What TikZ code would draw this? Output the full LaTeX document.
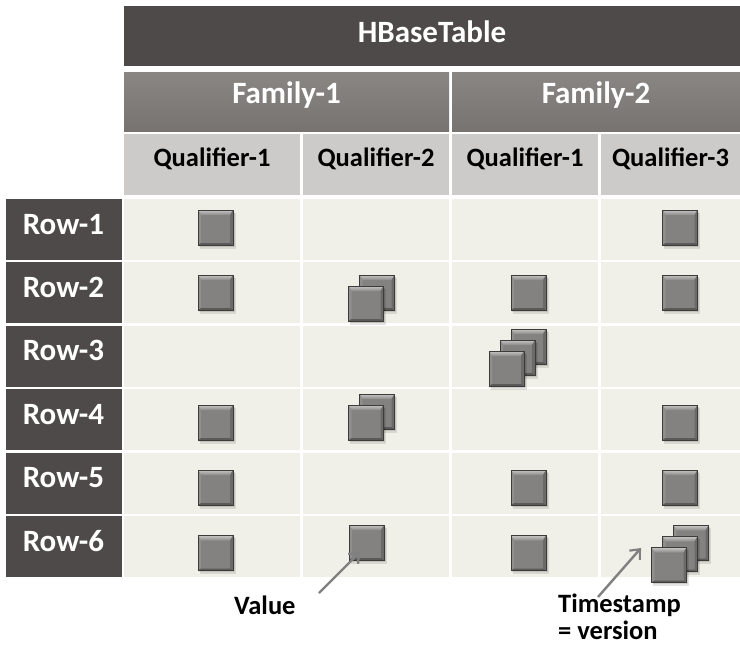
\documentclass[tikz,border=0pt]{standalone}
\usepackage{fontspec}
\setmainfont{Carlito}
\usetikzlibrary{arrows.meta}
\definecolor{hdark}{HTML}{4E4A49}
\definecolor{hmid}{HTML}{777371}
\definecolor{hmidtop}{HTML}{8A8684}
\definecolor{qlight}{HTML}{CDCBCA}
\definecolor{cellbg}{HTML}{F1F0E8}
\definecolor{cubeface}{HTML}{848281}
\definecolor{cubeline}{HTML}{3E3C3B}
\definecolor{bevtop}{HTML}{C8C6C5}
\definecolor{bevtopb}{HTML}{8C8A89}
\definecolor{bevside}{HTML}{918F8E}
\definecolor{bevright}{HTML}{6C6A69}
\definecolor{bevbot}{HTML}{5C5A59}
\definecolor{arrowgray}{HTML}{808080}
\tikzset{
  box/.style={inner sep=0pt, outer sep=0pt, font=\bfseries\fontsize{31}{34}\selectfont},
  toprow/.style={box, fill=hdark, text=white, minimum height=60pt, text height=20pt, text depth=8pt},
  famrow/.style={box, top color=hmidtop, bottom color=hmid, text=white, minimum height=59pt, text height=20pt, text depth=16pt},
  qualrow/.style={box, fill=qlight, text=black, minimum height=61pt, font=\bfseries\fontsize{26.5}{30}\selectfont, text height=17pt, text depth=12.6pt},
  rowlab/.style={box, fill=hdark, text=white, minimum width=116pt, minimum height=61pt, text height=20pt, text depth=11pt},
  bodycell/.style={box, fill=cellbg, minimum height=61pt},
  lab/.style={inner sep=0pt, font=\bfseries\fontsize{26.5}{31}\selectfont, text=black},
  pointer/.style={draw=arrowgray, line width=2.4pt, -{Straight Barb[length=8pt,width=14pt,line width=2.2pt]}},
  cube/.pic={
    \fill[black, opacity=0.10] (-16,-15) rectangle (20,21);
    \fill[black, opacity=0.10] (-16.5,-16) rectangle (19,19.2);
    \fill[cubeface] (-17.5,-17.5) rectangle (17.5,17.5);
    \shade[top color=bevtop, bottom color=bevtopb] (-17.5,-17.5) -- (17.5,-17.5) -- (14.5,-12.5) -- (-14.5,-12.5) -- cycle;
    \fill[bevside] (-17.5,-17.5) -- (-14.5,-12.5) -- (-14.5,15.5) -- (-17.5,17.5) -- cycle;
    \fill[bevright] (17.5,-17.5) -- (14.5,-12.5) -- (14.5,15.5) -- (17.5,17.5) -- cycle;
    \fill[bevbot] (-17.5,17.5) -- (-14.5,15.5) -- (14.5,15.5) -- (17.5,17.5) -- cycle;
    \draw[cubeline, line width=1pt] (-17.5,-17.5) rectangle (17.5,17.5);
  }
}
\begin{document}
\begin{tikzpicture}[x=1pt, y=-1pt]
\useasboundingbox (0,0) rectangle (740,645);
\fill[white] (0,0) rectangle (740,645);
% headers
\node[toprow, minimum width=616pt] (hbase) at (432,36) {HBaseTable};
\node[famrow, minimum width=325pt] (fam1) at (286.5,101.5) {Family-1};
\node[famrow, minimum width=288pt] (fam2) at (596,101.5) {Family-2};
\node[qualrow, minimum width=176pt] (q1) at (212,164.5) {Qualifier-1};
\node[qualrow, minimum width=146pt] (q2) at (376,164.5) {Qualifier-2};
\node[qualrow, minimum width=146pt] (q3) at (525,164.5) {Qualifier-1};
\node[qualrow, minimum width=139pt] (q4) at (670.5,164.5) {Qualifier-3};
% rows
\foreach \r in {1,...,6}{
  \pgfmathsetmacro{\yc}{229.5+63.4*(\r-1)}
  \node[rowlab] (row\r) at (63.5,\yc) {Row-\r};
  \node[bodycell, minimum width=176pt] (c\r a) at (212,\yc) {};
  \node[bodycell, minimum width=146pt] (c\r b) at (376,\yc) {};
  \node[bodycell, minimum width=146pt] (c\r c) at (525,\yc) {};
  \node[bodycell, minimum width=139pt] (c\r d) at (670.5,\yc) {};
}
% cubes row 1
\pic at (215.5,227.5) {cube};
\pic at (680,227.5) {cube};
% row 2
\pic at (215.5,292.5) {cube};
\pic at (377,292.5) {cube};
\pic at (366,303.5) {cube};
\pic at (528.5,292.5) {cube};
\pic at (680,292.5) {cube};
% row 3
\pic at (528.5,346.5) {cube};
\pic at (517.5,357.5) {cube};
\pic at (506.5,368.5) {cube};
% row 4
\pic at (215.5,422.5) {cube};
\pic at (377,411.5) {cube};
\pic at (366,422.5) {cube};
\pic at (680,422.5) {cube};
% row 5
\pic at (215.5,487.5) {cube};
\pic at (528.5,487.5) {cube};
\pic at (680,487.5) {cube};
% row 6
\pic at (215.5,553) {cube};
\pic at (366.5,542.5) {cube};
\pic at (528.5,553) {cube};
\pic at (691,543) {cube};
\pic at (680,554) {cube};
\pic at (669,565) {cube};
% labels and pointers
\node[lab, anchor=base west] (value) at (234,614.5) {Value};
\node[lab, anchor=base west] (tstamp) at (558,612) {Timestamp};
\node[lab, anchor=base west] (tversion) at (558,639) {= version};
\coordinate (vstart) at (319,593);
\coordinate (vtip) at (360,552);
\coordinate (tstart) at (598,597);
\coordinate (ttip) at (641,548);
\draw[pointer] (vstart) -- (vtip);
\draw[pointer] (tstart) -- (ttip);
\end{tikzpicture}
\end{document}
